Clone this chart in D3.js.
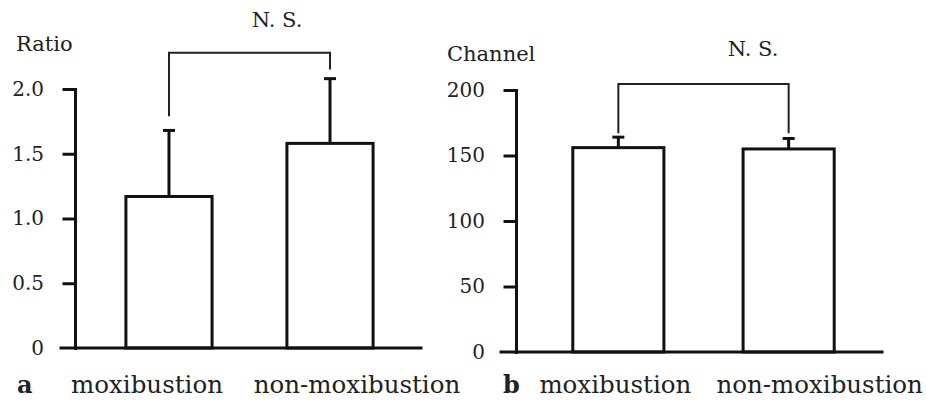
<!DOCTYPE html>
<html lang="en">
  <head>
    <meta charset="UTF-8" />
    <title>Moxibustion comparison</title>
    <script src="https://d3js.org/d3.v7.min.js"></script>
    <style>
      body {
        margin: 0;
        background: #fff;
      }
      svg {
        display: block;
        font-family: "DejaVu Serif", "Liberation Serif", serif;
        fill: #222;
      }
      .axis path,
      .axis line,
      .baseline {
        stroke: #111;
        stroke-width: 3px;
        stroke-linecap: square;
      }
      .axis text {
        font-size: 20px;
        fill: #222;
        font-family: "DejaVu Serif", serif;
      }
      .bar {
        fill: #fff;
        stroke: #111;
        stroke-width: 3px;
      }
      .err {
        stroke: #111;
        stroke-width: 3px;
      }
      .bracket {
        fill: none;
        stroke: #222;
        stroke-width: 2px;
      }
    </style>
  </head>
  <body>
    <svg width="927" height="401"></svg>
    <script>
      // data
      const categories = ["moxibustion", "non-moxibustion"];

      const ratioMeans = [1.17, 1.58];
      const ratioSD = [0.51, 0.5];
      const ratioTicks = [0, 0.5, 1, 1.5, 2];
      const ratioTickLabels = ["0", "0.5", "1.0", "1.5", "2.0"];
      const ratioBracketTop = 2.28;
      const ratioBracketLegs = [1.79, 2.15];

      const channelMeans = [156, 155];
      const channelSD = [8, 8];
      const channelTicks = [0, 50, 100, 150, 200];
      const channelTickLabels = ["0", "50", "100", "150", "200"];
      const channelBracketTop = 204.5;
      const channelBracketLegs = [167, 167];

      const svg = d3.select("svg");

      // panel layout (pixels)
      const panels = [
        {
          letter: "a", title: "Ratio", max: 2,
          means: ratioMeans, sd: ratioSD,
          ticks: ratioTicks, tickLabels: ratioTickLabels,
          bracketTop: ratioBracketTop, bracketLegs: ratioBracketLegs,
          axisX: 75, top: 89, bottom: 348, baseFrom: 61, baseTo: 421,
          band: [76, 423], labelDx: [-22, 27], letterX: 17,
          titleX: 16, titleY: 51, nsX: 277, nsY: 27
        },
        {
          letter: "b", title: "Channel", max: 200,
          means: channelMeans, sd: channelSD,
          ticks: channelTicks, tickLabels: channelTickLabels,
          bracketTop: channelBracketTop, bracketLegs: channelBracketLegs,
          axisX: 516, top: 90, bottom: 352, baseFrom: 501, baseTo: 882,
          band: [520, 887], labelDx: [-3, 31], letterX: 503,
          titleX: 447, titleY: 61, nsX: 753, nsY: 56
        }
      ];

      panels.forEach((p) => {
        const g = svg.append("g");

        const y = d3.scaleLinear().domain([0, p.max]).range([p.bottom, p.top]);
        const x = d3
          .scaleBand()
          .domain(categories)
          .range(p.band)
          .paddingInner(0.465)
          .paddingOuter(0.31);

        // bars
        g.selectAll(".bar")
          .data(p.means)
          .enter()
          .append("rect")
          .attr("class", "bar")
          .attr("x", (d, i) => x(categories[i]))
          .attr("y", (d) => y(d))
          .attr("width", x.bandwidth())
          .attr("height", (d) => y(0) - y(d));

        // error bars (upper only)
        const cx = (i) => x(categories[i]) + x.bandwidth() / 2;
        g.selectAll(".errv")
          .data(p.means)
          .enter()
          .append("line")
          .attr("class", "err")
          .attr("x1", (d, i) => cx(i))
          .attr("x2", (d, i) => cx(i))
          .attr("y1", (d) => y(d))
          .attr("y2", (d, i) => y(d + p.sd[i]));
        g.selectAll(".errc")
          .data(p.means)
          .enter()
          .append("line")
          .attr("class", "err")
          .attr("x1", (d, i) => cx(i) - 6)
          .attr("x2", (d, i) => cx(i) + 6)
          .attr("y1", (d, i) => y(d + p.sd[i]))
          .attr("y2", (d, i) => y(d + p.sd[i]));

        // y axis
        const axis = g
          .append("g")
          .attr("class", "axis")
          .attr("transform", `translate(${p.axisX},0)`)
          .call(
            d3
              .axisLeft(y)
              .tickValues(p.ticks)
              .tickFormat((d, i) => p.tickLabels[i])
              .tickSize(11)
              .tickSizeOuter(0)
              .tickPadding(20)
          );
        axis.selectAll(".tick").filter((d) => d === 0).select("line").remove();

        // baseline
        g.append("line")
          .attr("class", "baseline")
          .attr("x1", p.baseFrom)
          .attr("x2", p.baseTo)
          .attr("y1", y(0))
          .attr("y2", y(0));

        // significance bracket
        const path = d3.path();
        path.moveTo(cx(0), y(p.bracketLegs[0]));
        path.lineTo(cx(0), y(p.bracketTop));
        path.lineTo(cx(1), y(p.bracketTop));
        path.lineTo(cx(1), y(p.bracketLegs[1]));
        g.append("path").attr("class", "bracket").attr("d", path.toString());

        g.append("text")
          .attr("x", p.nsX)
          .attr("y", p.nsY)
          .attr("text-anchor", "middle")
          .style("font-size", "21px")
          .text("N. S.");

        // axis title
        g.append("text")
          .attr("x", p.titleX)
          .attr("y", p.titleY)
          .style("font-size", "21px")
          .text(p.title);

        // category labels
        g.selectAll(".cat")
          .data(categories)
          .enter()
          .append("text")
          .attr("x", (d, i) => cx(i) + p.labelDx[i])
          .attr("y", 393)
          .attr("text-anchor", "middle")
          .style("font-size", "24.5px")
          .text((d) => d);

        // panel letter
        g.append("text")
          .attr("x", p.letterX)
          .attr("y", 393)
          .style("font-size", "24px")
          .style("font-weight", "bold")
          .text(p.letter);
      });
    </script>
  </body>
</html>
